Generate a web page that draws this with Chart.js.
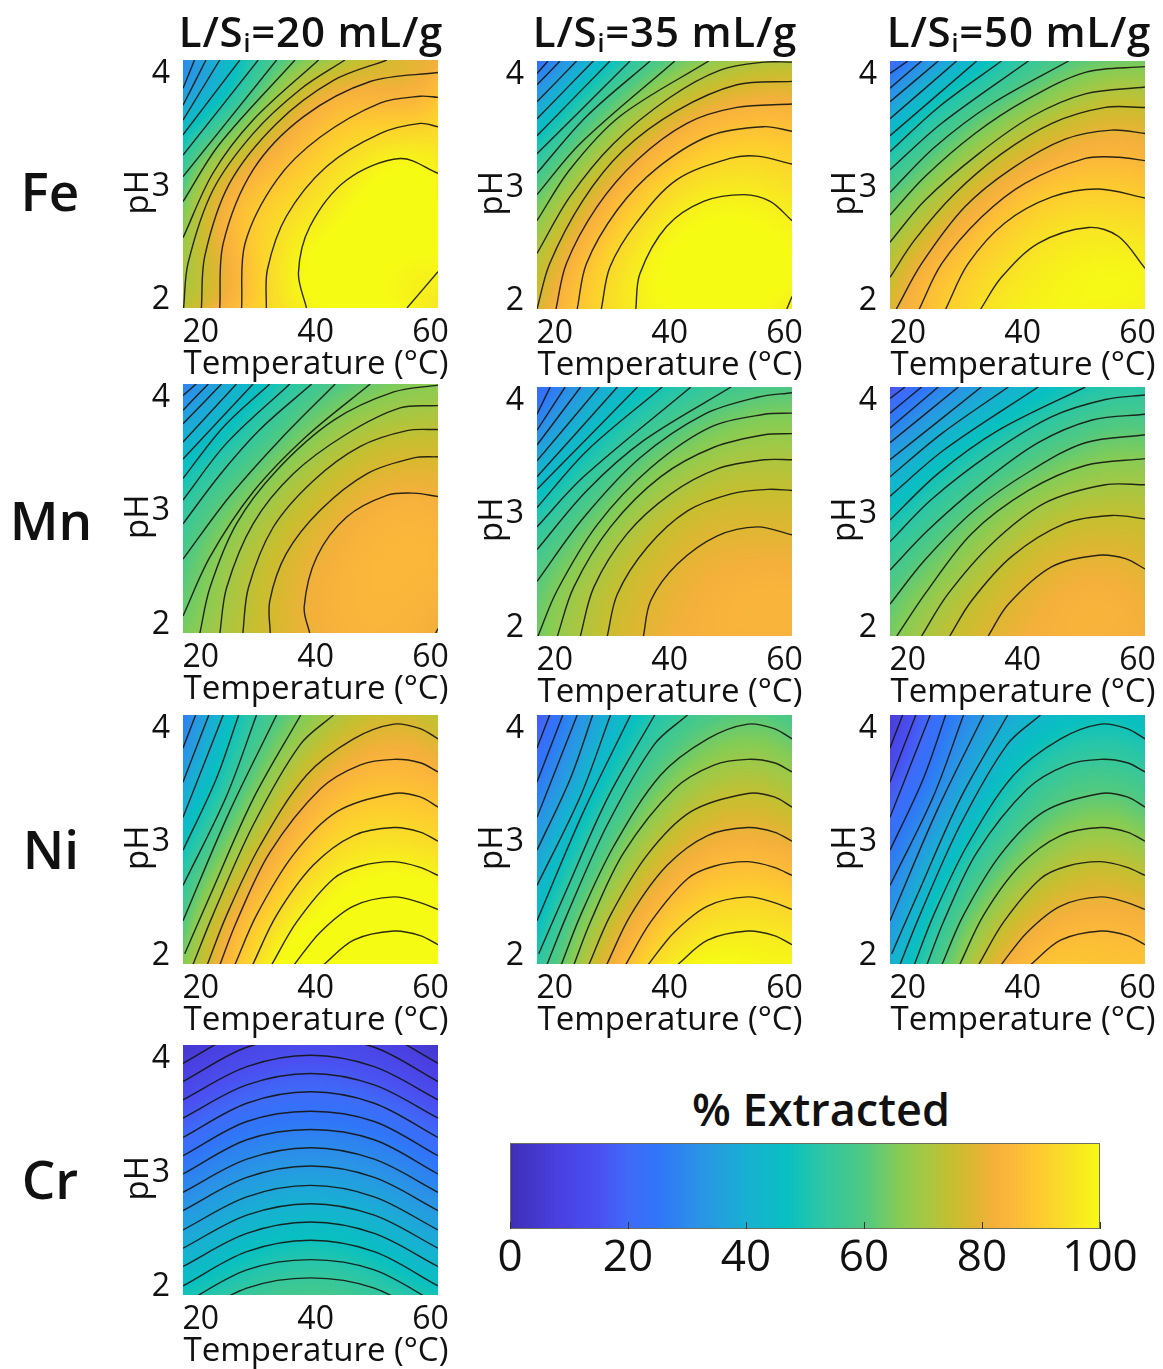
<!DOCTYPE html>
<html>
<head>
<meta charset="utf-8">
<title>% Extracted contours</title>
<script src="https://cdn.jsdelivr.net/npm/chart.js@4/dist/chart.umd.min.js"></script>
<style>
    html, body { margin: 0; padding: 0; background: #fff; }
    body { position: relative; width: 1163px; height: 1369px; overflow: hidden; font-family: "Open Sans", "Noto Sans", sans-serif; color: #111; }
    canvas { position: absolute; }
    .head { position: absolute; white-space: nowrap; transform: translate(-50%, -50%); }
    .col { font-size: 42px; font-weight: 600; letter-spacing: 0.8px; }
    .col sub { font-size: 25px; line-height: 0; vertical-align: -0.22em; }
    .row { font-size: 53px; font-weight: 600; }
    .bar { font-size: 45px; font-weight: 600; }
    .axis { font-size: 33px; }
</style>
</head>
<body>
<script>
'use strict'

// axis ticks
const tempTicks = [20, 40, 60]
const phTicks = [2, 3, 4]
const barTicks = [0, 20, 40, 60, 80, 100]

// colorbar [%, colour]
const barPercent = [0, 8, 15, 20, 25, 32, 40, 47, 52, 60, 66, 70, 75, 78, 82, 85, 90, 95, 100]
const barColors = ['#3d2fb5', '#4a3fe0', '#4a50f0', '#3f6af8', '#3075f8', '#2a93e6', '#18b0d2', '#08c0c0', '#28c6a8', '#4fc982',
    '#85cc55', '#a3c845', '#c6bf30', '#d9b830', '#f5b03c', '#fbb83a', '#fdcc2f', '#f8e225', '#f6fb14']

// nodes of the % extracted tables below: columns are temperature, rows are pH
const tempNodes = [17, 28, 39, 50, 61]
const phNodes = [4.12, 3.57, 3.03, 2.48, 1.93]

const feL20 = [[30, 50, 66, 76, 81], [43, 66, 84, 89.5, 92], [59.5, 84, 92.5, 100, 99], [69, 88, 99, 102, 100], [72.5, 89, 98.3, 101, 96]]
const feL35 = [[23, 44, 60, 69, 72], [43, 63, 78, 85.5, 86], [59.5, 78, 91, 96, 94.5], [71, 88.5, 99, 102, 99.5], [77.5, 92.5, 99.5, 101, 97]]
const feL50 = [[20, 39, 52.7, 61, 64], [41.3, 57.4, 69, 77, 78], [58.3, 72.3, 83.9, 89, 88.2], [70.7, 84.7, 93.3, 97, 96.5], [78.5, 91, 97.5, 99, 98]]
const mnL20 = [[28, 43.4, 55.4, 63.2, 66.6], [42.3, 55, 67.3, 74.5, 76], [53.4, 66.4, 76.1, 82, 82.5], [60.1, 72.3, 80.6, 84.5, 84], [64.5, 74.3, 81, 84, 81]]
const mnL35 = [[21, 38.5, 49.5, 56.3, 59.5], [35.5, 50.9, 62.4, 68.8, 70], [50, 62.8, 72.8, 76.8, 77], [59.7, 71.3, 78.6, 82, 82.5], [64.2, 74.4, 81, 83, 83]]
const mnL50 = [[15, 30.7, 41.5, 49.3, 52], [33.3, 45.9, 55.6, 62.5, 64.4], [47.3, 58.3, 68, 73.2, 73.6], [57.9, 68.2, 76.7, 81, 79.5], [64.5, 74.9, 81, 83, 82]]
const niL20 = [[27, 51, 66.5, 75.5, 73], [35.6, 59.5, 78, 85.8, 84.1], [46.5, 70.8, 88, 94.4, 93], [56.8, 83, 97, 103, 102], [66, 91, 105.6, 110, 109]]
const niL35 = [[16.5, 38, 52.4, 60, 58], [25.5, 46, 63, 71.4, 69.3], [34.3, 56.5, 74, 81.7, 80], [43.2, 68, 85, 92, 91], [53, 77.8, 95.6, 100, 99]]
const niL50 = [[7, 26.7, 39.2, 46, 44.5], [14.5, 33.5, 49.4, 57.6, 55.7], [23.3, 43, 60, 69, 67], [30.8, 54.5, 72.5, 80.5, 79.5], [40.5, 64.5, 83.8, 88.5, 88]]
const crL20 = [[4, 10, 12, 10, 4], [15, 21, 23, 21, 15], [26, 32, 34, 32, 26], [37, 43, 46, 43, 37], [49, 55, 58, 55, 49]]

// contour lines, each one [temp, pH, temp, pH, ...]
const feL20Lines = [
    [38.4, 1.93, 37, 2.24, 39, 2.65, 45.4, 3.06, 54.7, 3.25, 61.3, 3.12],
    [55.9, 1.93, 61.3, 2.25],
    [31.4, 1.93, 31.6, 2.27, 34.9, 2.74, 41.9, 3.18, 51.2, 3.47, 58.2, 3.56, 61.3, 3.53],
    [27.1, 1.93, 27.7, 2.5, 33.2, 3.06, 40.8, 3.44, 51.2, 3.74, 58.2, 3.8, 61.3, 3.79],
    [23.3, 1.93, 23.9, 2.5, 29.1, 3.15, 37.9, 3.62, 49.5, 3.93, 61.3, 4.01],
    [20.1, 1.93, 20.7, 2.39, 25, 3.03, 33.2, 3.56, 43.1, 3.94, 52.4, 4.12],
    [17, 1.93, 17.8, 2.33, 22.1, 2.97, 29.1, 3.47, 37.3, 3.86, 45.1, 4.12],
    [16.9, 2.55, 22.1, 3.12, 29.1, 3.59, 40.5, 4.12],
    [16.9, 2.87, 23.3, 3.38, 36.4, 4.12],
    [16.9, 3.09, 33.2, 4.12],
    [16.9, 3.28, 30, 4.12],
    [16.9, 3.46, 26.8, 4.12],
    [16.9, 3.59, 23.3, 4.12],
    [16.9, 3.72, 20.9, 4.12],
    [16.9, 3.87, 18.9, 4.12]
]
const feL35Lines = [
    [34.1, 1.93, 34.8, 2.24, 39.5, 2.66, 45.9, 2.88, 52.9, 2.94, 57.5, 2.88, 61.3, 2.71],
    [60.4, 1.93, 61.3, 2.04],
    [28.1, 1.93, 29.6, 2.3, 34.2, 2.69, 41.2, 3.07, 50.5, 3.26, 55.2, 3.28, 61.3, 3.21],
    [23.9, 1.93, 25.5, 2.33, 30.8, 2.8, 37.7, 3.17, 47, 3.46, 56.4, 3.54, 61.3, 3.5],
    [20.2, 1.93, 22, 2.33, 27.3, 2.83, 34.2, 3.24, 43, 3.57, 51.7, 3.71, 61.3, 3.74],
    [16.9, 1.93, 19.1, 2.33, 24.9, 2.89, 31.9, 3.33, 41.2, 3.68, 51.7, 3.91, 61.3, 3.94],
    [16.9, 2.42, 22.6, 2.92, 30.2, 3.39, 40.1, 3.8, 48.8, 4.04, 56.4, 4.11, 61.3, 4.11],
    [16.9, 2.71, 22.6, 3.16, 31.3, 3.63, 46.8, 4.12],
    [16.9, 2.94, 24.4, 3.39, 40.9, 4.12],
    [16.9, 3.13, 25.5, 3.63, 36.6, 4.12],
    [16.9, 3.3, 33.1, 4.12],
    [16.9, 3.46, 29.6, 4.12],
    [16.9, 3.61, 26.7, 4.12],
    [16.9, 3.76, 23.8, 4.12],
    [16.9, 3.91, 20.9, 4.12],
    [16.9, 4.01, 18.8, 4.12]
]
const feL50Lines = [
    [32.7, 1.93, 36.3, 2.21, 42.7, 2.51, 51.5, 2.65, 56.7, 2.57, 61.3, 2.29],
    [26.6, 1.93, 30.5, 2.33, 36.9, 2.69, 45.1, 2.92, 53.2, 2.99, 61.3, 2.91],
    [22, 1.93, 25.9, 2.33, 32.8, 2.74, 40.4, 3.04, 50.9, 3.26, 56.7, 3.27, 61.3, 3.24],
    [18, 1.93, 22.4, 2.33, 29.9, 2.83, 38.1, 3.17, 47.4, 3.43, 55.5, 3.51, 61.3, 3.48],
    [16.9, 2.21, 21.2, 2.54, 28.2, 2.95, 36.3, 3.3, 45.1, 3.57, 54.4, 3.71, 61.3, 3.71],
    [16.9, 2.52, 23, 2.89, 32.3, 3.3, 41.6, 3.63, 50.9, 3.83, 61.3, 3.89],
    [16.9, 2.76, 23, 3.1, 31.7, 3.48, 40.4, 3.77, 50.9, 4.02, 61.3, 4.07],
    [16.9, 2.96, 24.7, 3.36, 34.6, 3.74, 48, 4.12],
    [16.9, 3.16, 25.9, 3.57, 41, 4.12],
    [16.9, 3.32, 25.3, 3.71, 36.3, 4.12],
    [16.9, 3.46, 32, 4.12],
    [16.9, 3.61, 28.5, 4.12],
    [16.9, 3.76, 25.3, 4.12],
    [16.9, 3.88, 22.4, 4.12],
    [16.9, 4.01, 20, 4.12]
]
const mnL20Lines = [
    [39, 1.92, 38, 2.16, 40.2, 2.6, 45.4, 2.95, 52.4, 3.14, 57.1, 3.16, 61.3, 3.13],
    [60.8, 1.92, 61.3, 1.97],
    [32.1, 1.92, 32, 2.21, 34.9, 2.63, 40.8, 3.01, 48.9, 3.33, 57.1, 3.47, 61.3, 3.48],
    [27.3, 1.92, 28.3, 2.33, 32.6, 2.86, 39.6, 3.27, 47.7, 3.57, 55.9, 3.71, 61.3, 3.72],
    [23.3, 1.92, 24.5, 2.33, 29.1, 2.89, 36.1, 3.33, 45.4, 3.68, 54.7, 3.91, 61.3, 3.93],
    [19.8, 1.92, 21.6, 2.33, 26.2, 2.89, 33.2, 3.36, 43.1, 3.8, 53.6, 4.05, 61.3, 4.11],
    [16.9, 2.08, 21.6, 2.6, 29.1, 3.17, 38.4, 3.66, 49.5, 4.12],
    [16.9, 2.58, 25, 3.13, 33.8, 3.63, 43.4, 4.12],
    [16.9, 2.89, 23.3, 3.32, 30.3, 3.72, 39.3, 4.12],
    [16.9, 3.1, 24.5, 3.6, 35.5, 4.12],
    [16.9, 3.29, 23.9, 3.74, 32, 4.12],
    [16.9, 3.46, 29.1, 4.12],
    [16.9, 3.61, 26.2, 4.12],
    [16.9, 3.77, 23.6, 4.12],
    [16.9, 3.89, 21.3, 4.12],
    [16.9, 4.02, 19.2, 4.12]
]
const mnL35Lines = [
    [35.4, 1.92, 36.7, 2.24, 41.3, 2.56, 48.3, 2.81, 55.3, 2.89, 61.3, 2.82],
    [29.1, 1.92, 30.9, 2.3, 36.1, 2.71, 43.1, 3.03, 50.7, 3.18, 57.1, 3.22, 61.3, 3.21],
    [24.4, 1.92, 26.8, 2.36, 32.6, 2.83, 40.2, 3.18, 48.3, 3.4, 56.5, 3.48, 61.3, 3.48],
    [20.4, 1.92, 23.3, 2.36, 29.7, 2.89, 38.4, 3.33, 47.7, 3.59, 56.5, 3.7, 61.3, 3.71],
    [17, 1.92, 20.4, 2.33, 27.4, 2.91, 36.7, 3.41, 47.2, 3.77, 56.5, 3.88, 61.3, 3.89],
    [16.9, 2.41, 25, 2.97, 34.9, 3.5, 46, 3.88, 55.3, 4.03, 61.3, 4.07],
    [16.9, 2.69, 25.6, 3.21, 35.5, 3.65, 50.7, 4.12],
    [16.9, 2.89, 25, 3.33, 43.7, 4.12],
    [16.9, 3.06, 25.6, 3.56, 38.7, 4.12],
    [16.9, 3.22, 34.4, 4.12],
    [16.9, 3.33, 30.9, 4.12],
    [16.9, 3.47, 27.7, 4.12],
    [16.9, 3.61, 24.5, 4.12],
    [16.9, 3.74, 21.8, 4.12],
    [16.9, 3.88, 19.2, 4.12]
]
const mnL50Lines = [
    [34, 1.93, 37.5, 2.21, 45.1, 2.54, 53.2, 2.64, 57.9, 2.61, 61.3, 2.52],
    [27.3, 1.93, 31.1, 2.24, 38.1, 2.63, 47.4, 2.92, 55.5, 2.99, 61.3, 2.96],
    [22.4, 1.93, 27, 2.3, 34.6, 2.74, 43.9, 3.1, 54.4, 3.26, 61.3, 3.26],
    [18.1, 1.93, 23, 2.3, 31.1, 2.83, 41, 3.21, 50.9, 3.43, 61.3, 3.49],
    [16.9, 2.21, 23, 2.6, 31.7, 3.04, 41.6, 3.39, 50.9, 3.63, 61.3, 3.7],
    [16.9, 2.51, 23.5, 2.86, 32.8, 3.27, 42.7, 3.63, 52.1, 3.83, 61.3, 3.88],
    [16.9, 2.76, 24.1, 3.13, 34.6, 3.54, 45.1, 3.86, 54.4, 4.01, 61.3, 4.05],
    [16.9, 2.95, 25.3, 3.36, 35.8, 3.74, 50.9, 4.12],
    [16.9, 3.16, 26.4, 3.57, 42.7, 4.12],
    [16.9, 3.33, 25.9, 3.71, 37.5, 4.12],
    [16.9, 3.48, 32.8, 4.12],
    [16.9, 3.63, 28.8, 4.12],
    [16.9, 3.76, 25.3, 4.12],
    [16.9, 3.89, 22.4, 4.12],
    [16.9, 4.02, 19.5, 4.12]
]
// the three Ni panels have the same line shapes, only the shading moves
const niLines = [
    [41.3, 1.92, 46.6, 2.14, 53.6, 2.22, 58.2, 2.18, 61.3, 2.1],
    [36.2, 1.92, 40.8, 2.21, 46.6, 2.44, 53.6, 2.52, 58.2, 2.47, 61.3, 2.41],
    [32.3, 1.92, 36.7, 2.3, 43.1, 2.68, 47.7, 2.79, 53.6, 2.83, 58.2, 2.78, 61.3, 2.71],
    [29, 1.92, 33.2, 2.36, 39.6, 2.8, 46.6, 3.06, 53.6, 3.13, 58.2, 3.09, 61.3, 3.01],
    [25.9, 1.92, 29.7, 2.36, 36.1, 2.89, 43.7, 3.27, 53.6, 3.43, 58.2, 3.4, 61.3, 3.31],
    [23.3, 1.92, 26.2, 2.3, 32, 2.91, 40.8, 3.47, 47.7, 3.68, 53.6, 3.73, 58.2, 3.7, 61.3, 3.62],
    [21.1, 1.92, 24.5, 2.36, 30.3, 2.97, 38.4, 3.59, 46.6, 3.91, 53.6, 4.04, 58.2, 4, 61.3, 3.91],
    [18.6, 1.92, 22.1, 2.36, 29.1, 3.15, 37.3, 3.86, 43.1, 4.12],
    [17.2, 2.02, 21.6, 2.53, 29.1, 3.38, 37.4, 4.12],
    [16.9, 2.31, 25, 3.27, 33.2, 4.12],
    [16.9, 2.62, 24.5, 3.41, 29.7, 4.12],
    [16.9, 2.93, 22.7, 3.56, 26.6, 4.12],
    [16.9, 3.22, 23.9, 4.12],
    [16.9, 3.53, 21.4, 4.12],
    [16.9, 3.83, 19.1, 4.12]
]
const crTemps = [16.9, 28, 39.1, 50.2, 61.3]
const crPh = [
    [3.96, 4.26, 4.36, 4.26, 3.96],
    [3.8, 4.1, 4.19, 4.1, 3.8],
    [3.64, 3.93, 4.03, 3.93, 3.64],
    [3.48, 3.77, 3.87, 3.77, 3.48],
    [3.31, 3.61, 3.71, 3.61, 3.31],
    [3.15, 3.45, 3.54, 3.45, 3.15],
    [2.99, 3.29, 3.38, 3.29, 2.99],
    [2.83, 3.12, 3.22, 3.12, 2.83],
    [2.67, 2.96, 3.06, 2.96, 2.67],
    [2.5, 2.79, 2.89, 2.79, 2.5],
    [2.34, 2.63, 2.73, 2.63, 2.34],
    [2.18, 2.47, 2.57, 2.47, 2.18],
    [2.01, 2.31, 2.41, 2.31, 2.01],
    [1.85, 2.15, 2.24, 2.15, 1.85],
    [1.69, 1.99, 2.08, 1.99, 1.69]
]
const crLines = crPh.map(row => row.flatMap((ph, i) => [crTemps[i], ph]))

const font = '"Open Sans", "Noto Sans", sans-serif'
const PLOT_W = 255
const LEFT_BOX = 61
const BOTTOM_BOX = 40

// [table, lines, plot left, plot top, plot height]
const panels = [
    [feL20, feL20Lines, 183, 60, 248], [feL35, feL35Lines, 537, 61, 248], [feL50, feL50Lines, 890, 61, 248],
    [mnL20, mnL20Lines, 183, 384, 249], [mnL35, mnL35Lines, 537, 387, 249], [mnL50, mnL50Lines, 890, 387, 249],
    [niL20, niLines, 183, 715, 249], [niL35, niLines, 537, 715, 249], [niL50, niLines, 890, 715, 249],
    [crL20, crLines, 183, 1045, 250]
]

function hexRgb(h) {
    return [1, 3, 5].map(i => parseInt(h.substr(i, 2), 16))
}

// colour lookup, one entry per 0.1 %
const lut = []
for (let i = 0; i <= 1000; i++) {
    const v = i / 10
    let k = 0
    while (k < barPercent.length - 2 && v > barPercent[k + 1]) k++
    const f = (v - barPercent[k]) / (barPercent[k + 1] - barPercent[k])
    const a = hexRgb(barColors[k]), b = hexRgb(barColors[k + 1])
    lut.push(a.map((c, n) => c + (b[n] - c) * f))
}

function nodeWeights(nodes, v) {
    return nodes.map((n, i) => nodes.reduce((w, m, j) => (j === i ? w : w * (v - m) / (n - m)), 1))
}

// paints the % table under the contour lines, pixel positions come from the scales
const shading = {
    id: 'shading',
    beforeDatasetsDraw(chart, args, opts) {
        const { ctx, chartArea: area, scales } = chart
        const w = Math.round(area.right - area.left), h = Math.round(area.bottom - area.top)
        const img = ctx.createImageData(w, h)
        const wx = []
        for (let x = 0; x < w; x++) wx.push(nodeWeights(tempNodes, scales.x.getValueForPixel(area.left + x + 0.5)))
        let p = 0
        for (let y = 0; y < h; y++) {
            const wy = nodeWeights(phNodes, scales.y.getValueForPixel(area.top + y + 0.5))
            for (let x = 0; x < w; x++) {
                let val = 0
                for (let r = 0; r < 5; r++) for (let c = 0; c < 5; c++) val += wy[r] * wx[x][c] * opts.table[r][c]
                const col = lut[Math.round(Math.min(100, Math.max(0, val)) * 10)]
                img.data[p++] = col[0]; img.data[p++] = col[1]; img.data[p++] = col[2]; img.data[p++] = 255
            }
        }
        ctx.putImageData(img, area.left, area.top)
    }
}

const colorbar = {
    id: 'colorbar',
    beforeDraw(chart) {
        const { ctx, chartArea: area, scales } = chart
        const grad = ctx.createLinearGradient(scales.x.getPixelForValue(0), 0, scales.x.getPixelForValue(100), 0)
        barPercent.forEach((v, i) => grad.addColorStop(v / 100, barColors[i]))
        ctx.save()
        ctx.fillStyle = grad
        ctx.fillRect(area.left, area.top, area.right - area.left, area.bottom - area.top)
        ctx.strokeStyle = '#6f6f5f'
        ctx.lineWidth = 1
        ctx.strokeRect(area.left + 0.5, area.top + 0.5, area.right - area.left - 1, area.bottom - area.top - 1)
        ctx.restore()
    }
}

function addCanvas(left, top, w, h) {
    const c = document.createElement('canvas')
    c.width = w
    c.height = h
    c.style.left = left + 'px'
    c.style.top = top + 'px'
    c.style.width = w + 'px'
    c.style.height = h + 'px'
    document.body.appendChild(c)
    return c
}

// keep the plot rectangle where it is, labels may overhang it
function noOverhang(axis) {
    axis.paddingTop = 0
    axis.paddingBottom = 0
    axis.paddingLeft = 0
    axis.paddingRight = 0
}

function drawPanel(table, lines, plotLeft, plotTop, plotH) {
    const canvas = addCanvas(plotLeft - LEFT_BOX, plotTop - 2, LEFT_BOX + PLOT_W + 30, 2 + plotH + BOTTOM_BOX)
    new Chart(canvas, {
        type: 'scatter',
        data: {
            datasets: lines.map(line => {
                const data = []
                for (let i = 0; i < line.length; i += 2) data.push({ x: line[i], y: line[i + 1] })
                return { data, showLine: true, pointRadius: 0, borderColor: 'rgba(20,20,15,0.9)', borderWidth: 1.4, tension: 0.33 }
            })
        },
        options: {
            responsive: false,
            animation: false,
            layout: { autoPadding: false, padding: { left: 0, top: 2, right: 30, bottom: 0 } },
            plugins: { legend: { display: false }, tooltip: { enabled: false }, shading: { table } },
            scales: {
                x: {
                    type: 'linear', min: 16.9, max: 61.3,
                    grid: { display: false }, border: { display: false },
                    afterBuildTicks: axis => { axis.ticks = tempTicks.map(value => ({ value })) },
                    afterFit: axis => { axis.height = BOTTOM_BOX; noOverhang(axis) },
                    ticks: { autoSkip: false, maxRotation: 0, padding: -2, color: '#111', font: { family: font, size: 32 } }
                },
                y: {
                    type: 'linear', min: 1.93, max: 4.12,
                    grid: { display: false }, border: { display: false },
                    afterBuildTicks: axis => { axis.ticks = phTicks.map(value => ({ value })) },
                    afterFit: axis => { axis.width = LEFT_BOX; noOverhang(axis) },
                    ticks: { autoSkip: false, padding: 5, color: '#111', font: { family: font, size: 32 } },
                    title: { display: true, text: 'pH\u2002', color: '#111', padding: 0, font: { family: font, size: 33, lineHeight: 1 } }
                }
            }
        },
        plugins: [shading]
    })
    // the axis title is wider than the plot
    addHead('axis', 'Temperature (°C)', plotLeft + 133, plotTop + plotH + 53)
}

function addHead(cls, html, x, y) {
    const d = document.createElement('div')
    d.className = 'head ' + cls
    d.innerHTML = html
    d.style.left = x + 'px'
    d.style.top = y + 'px'
    document.body.appendChild(d)
}

panels.forEach(p => drawPanel(p[0], p[1], p[2], p[3], p[4]))

addHead('col', 'L/S<sub>i</sub>=20 mL/g', 311, 30)
addHead('col', 'L/S<sub>i</sub>=35 mL/g', 665, 30)
addHead('col', 'L/S<sub>i</sub>=50 mL/g', 1019, 30)
addHead('row', 'Fe', 50, 190)
addHead('row', 'Mn', 51, 519)
addHead('row', 'Ni', 51, 848)
addHead('row', 'Cr', 50, 1178)
addHead('bar', '% Extracted', 821, 1108)

// colorbar
new Chart(addCanvas(480, 1130, 680, 170), {
    type: 'scatter',
    data: { datasets: [{ data: [] }] },
    options: {
        responsive: false,
        animation: false,
        layout: { autoPadding: false, padding: { left: 30, top: 13, right: 60, bottom: 0 } },
        plugins: { legend: { display: false }, tooltip: { enabled: false } },
        scales: {
            x: {
                type: 'linear', min: 0, max: 100,
                grid: { drawOnChartArea: false, drawTicks: true, tickLength: -7, color: '#333' },
                border: { display: false },
                afterBuildTicks: axis => { axis.ticks = barTicks.map(value => ({ value })) },
                afterFit: axis => { axis.height = 71; noOverhang(axis) },
                ticks: { autoSkip: false, maxRotation: 0, padding: 10, color: '#111', font: { family: font, size: 44 } }
            },
            y: { display: false, min: 0, max: 1 }
        }
    },
    plugins: [colorbar]
})
</script>
</body>
</html>
